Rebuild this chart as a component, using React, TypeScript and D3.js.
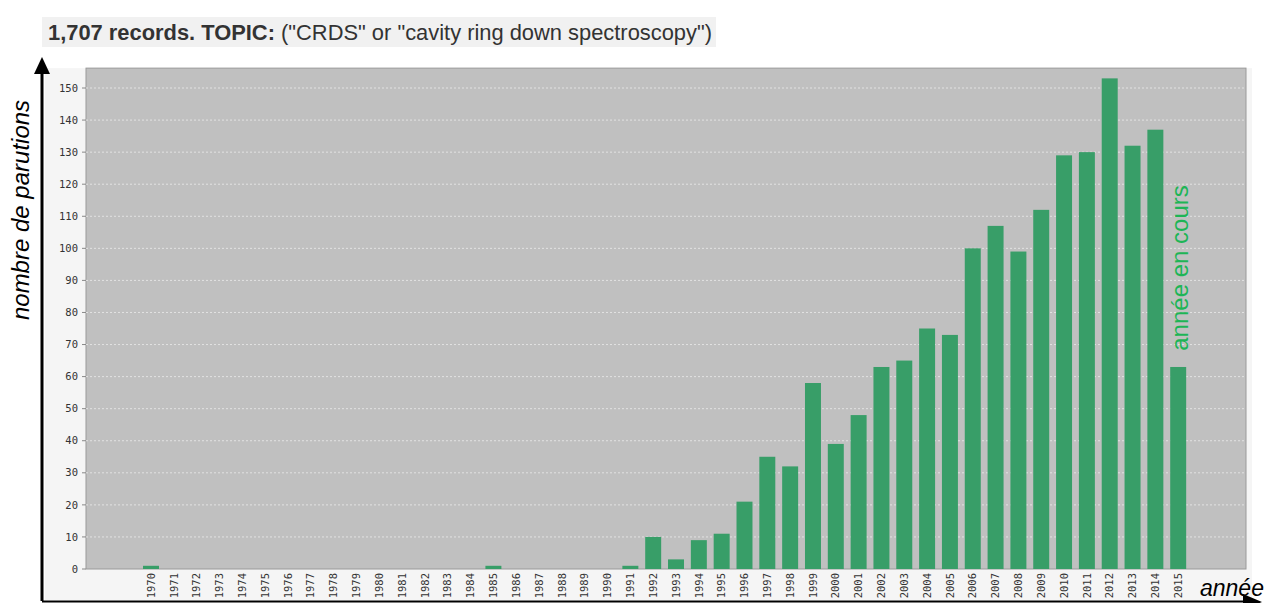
import * as React from "react"
import * as d3 from "d3"

const years = d3.range(1970, 2016).map(String)
const counts: Record<string, number> = {
  "1970": 1, "1985": 1, "1991": 1, "1992": 10, "1993": 3, "1994": 9, "1995": 11,
  "1996": 21, "1997": 35, "1998": 32, "1999": 58, "2000": 39, "2001": 48,
  "2002": 63, "2003": 65, "2004": 75, "2005": 73, "2006": 100, "2007": 107,
  "2008": 99, "2009": 112, "2010": 129, "2011": 130, "2012": 153, "2013": 132,
  "2014": 137, "2015": 63,
}
const yTicks = d3.range(0, 151, 10)

const W = 1266
const H = 603

export default function App() {
  const x = d3.scaleBand<string>().domain(years).range([139.6, 1189.6]).paddingInner(0.3).paddingOuter(0.15)
  const y = d3.scaleLinear().domain([0, 150]).range([569, 88])

  const plotLeft = 86
  const plotRight = 1246
  const plotTop = y(156.2)
  const plotBottom = y(0)

  return (
    <svg width={W} height={H} style={{ position: "absolute", left: 0, top: 0, background: "#fff" }}>
      {/* title */}
      <rect x={42} y={17} width={674} height={30} fill="#f1f1f1" />
      <text x={48} y={40} fontFamily="Liberation Sans, Arial, sans-serif" fontSize={22} fill="#333"
        textLength={664} lengthAdjust="spacingAndGlyphs">
        <tspan fontWeight="bold">1,707 records. TOPIC:</tspan>
        <tspan> ("CRDS" or "cavity ring down spectroscopy")</tspan>
      </text>

      {/* panel */}
      <rect x={45} y={plotTop} width={1207} height={600 - plotTop} fill="#f5f5f5" />
      <rect x={plotLeft} y={plotTop} width={plotRight - plotLeft} height={plotBottom - plotTop} fill="#c0c0c0" stroke="#9a9a9a" strokeWidth={1} />

      {/* grid + y ticks */}
      {yTicks.map((t) => (
        <g key={t}>
          {t > 0 && (
            <line x1={plotLeft} x2={plotRight} y1={y(t)} y2={y(t)} stroke="#e2e2e2" strokeWidth={1} strokeDasharray="2,2" />
          )}
          <line x1={plotLeft - 4} x2={plotLeft} y1={y(t)} y2={y(t)} stroke="#888" />
          <text x={plotLeft - 8} y={y(t)} dy="0.35em" textAnchor="end" fontFamily="DejaVu Sans Mono, monospace" fontSize={10.5} fill="#333">
            {t}
          </text>
        </g>
      ))}

      {/* bars */}
      {years.map((yr) => {
        const v = counts[yr] ?? 0
        if (!v) return null
        return (
          <rect key={yr} x={x(yr)} y={y(v)} width={x.bandwidth()} height={y(0) - y(v)} fill="#389e68" />
        )
      })}

      {/* x labels */}
      {years.map((yr) => {
        const cx = (x(yr) ?? 0) + x.bandwidth() / 2
        return (
          <text key={yr} transform={`translate(${cx},${plotBottom + 4}) rotate(-90)`} dy="0.35em" textAnchor="end"
            fontFamily="DejaVu Sans Mono, monospace" fontSize={10.5} fill="#333">
            {yr}
          </text>
        )
      })}

      {/* axis arrows */}
      <line x1={42} x2={42} y1={70} y2={601} stroke="#000" strokeWidth={3} />
      <path d="M34,74 L42,57 L50,74 Z" fill="#000" />
      <line x1={42} x2={1250} y1={601.5} y2={601.5} stroke="#000" strokeWidth={2} />
      <path d="M1243,594 L1262,602 L1243,610 Z" fill="#000" />

      <text transform="translate(29,210) rotate(-90)" textAnchor="middle" fontFamily="Liberation Sans, Arial, sans-serif"
        fontStyle="italic" fontSize={24} fill="#000">
        nombre de parutions
      </text>
      <text x={1200} y={596} fontFamily="Liberation Sans, Arial, sans-serif" fontStyle="italic" fontSize={23} fill="#000">
        année
      </text>
      <text transform={`translate(${(x("2015") ?? 0) + x.bandwidth() / 2 + 10},268) rotate(-90)`} textAnchor="middle"
        fontFamily="Liberation Sans, Arial, sans-serif" fontSize={24} fill="#1db556">
        année en cours
      </text>
    </svg>
  )
}
